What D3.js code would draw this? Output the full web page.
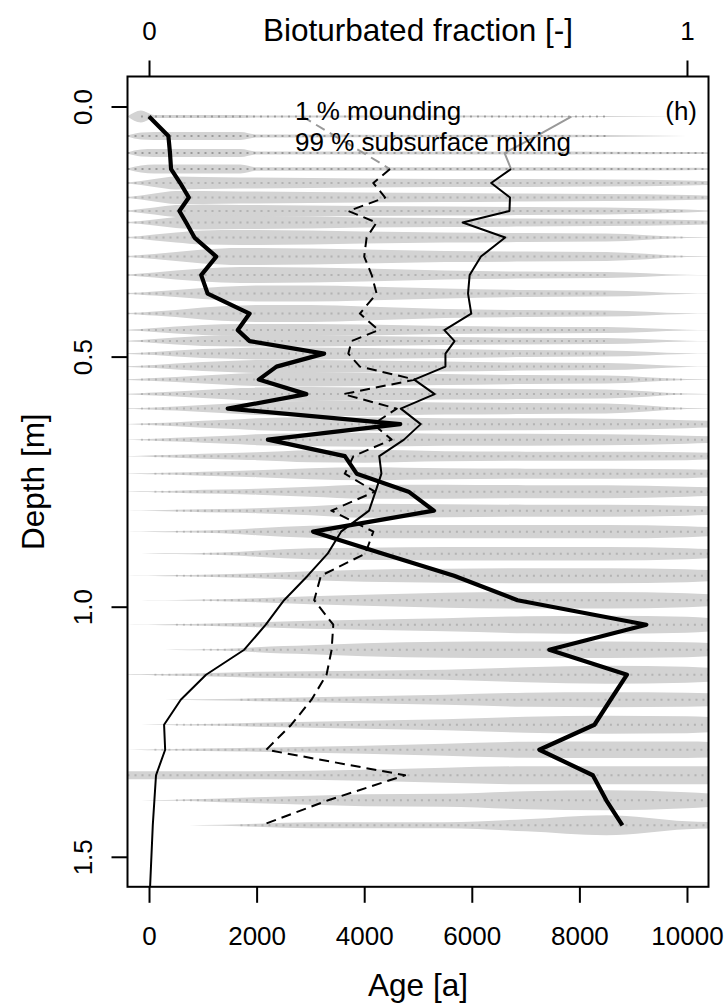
<!DOCTYPE html>
<html>
<head>
<meta charset="utf-8">
<script src="https://cdn.jsdelivr.net/npm/d3@7"></script>
<style>
  body { margin: 0; background: #fff; }
  svg text { font-family: "Liberation Sans", Arial, sans-serif; fill: #000; }
</style>
</head>
<body>
<svg id="chart"></svg>
<script>
// sample depths [m] of the age distributions
var levelDepth = [0.02, 0.059, 0.093, 0.125, 0.153, 0.182, 0.209, 0.232, 0.262, 0.30,
    0.337, 0.374, 0.414, 0.447, 0.469, 0.494, 0.52, 0.546, 0.575, 0.604,
    0.635, 0.666, 0.699, 0.734, 0.77, 0.808, 0.85, 0.894, 0.938, 0.987,
    1.036, 1.086, 1.136, 1.186, 1.236, 1.286, 1.337, 1.387, 1.437];

// mean age [a] per level (thick line)
var meanAge = [0, 360, 390, 410, 580, 740, 565, 690, 845, 1250,
    970, 1090, 1870, 1650, 1870, 3255, 2370, 2040, 2925, 1465,
    4670, 2210, 3640, 3860, 4825, 5295, 3050, 4350, 5670, 6850,
    9245, 7440, 8885, 8580, 8280, 7255, 8250, 8500, 8800];

// median age [a] per level (dashed line)
var medianAge = [2850, 3455, 3990, 4480, 4170, 4390, 3705, 4230, 4045, 4000,
    4140, 4230, 3920, 4265, 3765, 3705, 3920, 4950, 3610, 4605,
    4170, 4510, 3800, 3640, 4200, 3390, 4170, 4020, 3195, 3070,
    3425, 3395, 3300, 3020, 2645, 2180, 4760, 3330, 2090];

// bioturbated fraction (thin line, top axis)
var fracDepth = levelDepth.concat([1.56]);
var bioFraction = [0.785, 0.72, 0.661, 0.673, 0.636, 0.671, 0.670, 0.583, 0.662, 0.617,
    0.596, 0.593, 0.599, 0.549, 0.568, 0.551, 0.551, 0.493, 0.531, 0.468,
    0.505, 0.474, 0.428, 0.432, 0.421, 0.409, 0.357, 0.332, 0.295, 0.251,
    0.217, 0.177, 0.106, 0.059, 0.028, 0.030, 0.013, 0.010, 0.007, 0.002];

// depth down to which the curves are drawn in grey
var greyDepth = 0.125;

// age grid of the density profiles
var knotAge = [-400, -150, 100, 500, 1000, 1700, 2000, 3000, 4000, 5500, 7000, 8500, 10000, 10600];

// age density per level (one row per depth, one value per knot)
var density = [
    [0, 6, 1.5, 1.5, 1.5, 1.5, 1, 1, 1, 1, 0.8, 0.5, 0, 0],
    [0.5, 3.5, 4, 4, 4, 4, 1.5, 1.5, 1.3, 1.3, 1.2, 1, 0, 0],
    [0.5, 3.5, 4, 4, 4, 4, 1.5, 1.5, 1.5, 1.5, 1.5, 1.3, 1, 0.8],
    [0.5, 3.5, 4.5, 4.5, 4.5, 4.5, 1.8, 1.8, 1.8, 1.8, 1.8, 1.5, 1.2, 1],
    [0.5, 2, 4, 6.5, 6, 5.5, 5.5, 5, 4.5, 4, 4, 3.5, 2.5, 1.5],
    [0.5, 2, 4, 6.5, 6.5, 6, 6, 5.5, 5, 4.5, 4, 3.5, 2.5, 1.5],
    [0.5, 2, 3.5, 6, 6.5, 6, 6, 5.5, 5, 4.5, 4, 3.5, 1.5, 0],
    [0.5, 1.5, 3, 5.5, 7, 6.5, 6.5, 6, 5, 4.5, 4, 3.5, 2.5, 1.5],
    [0.5, 1.5, 3, 5, 7, 7.5, 7.5, 7, 6, 5, 4.5, 4, 0.5, 0],
    [0.5, 1.5, 2.5, 4.5, 7, 8.5, 8.5, 8, 7, 5.5, 5, 4.5, 0.5, 0],
    [0.5, 1.5, 2.5, 4.5, 6.5, 8, 8, 7.5, 6.5, 4.5, 3.5, 3, 0.3, 0],
    [0.5, 1.2, 2, 3.5, 5.5, 7.5, 8, 8, 7, 5, 3.5, 3, 0.3, 0],
    [0.5, 1.2, 2, 3.5, 6, 8, 8.5, 8.5, 7, 4.5, 3.5, 3, 0.3, 0],
    [0.4, 1, 2, 3.5, 5, 6, 6, 6, 5.5, 4, 3.3, 3, 0.3, 0],
    [0.4, 1, 2, 3.5, 5, 5.5, 5.5, 5.5, 5, 4, 3.3, 3, 0.3, 0],
    [0.3, 0.8, 1.5, 3, 4.5, 5.5, 6, 6, 5.5, 4.5, 3.5, 3, 0.3, 0],
    [0.3, 0.8, 1.5, 3, 4.5, 6, 6.5, 6.5, 6, 5, 4, 3.5, 0.3, 0],
    [0.3, 0.8, 1.5, 2.5, 4, 6, 6.5, 7, 6.5, 5.5, 4.5, 4, 0.5, 0],
    [0.3, 0.8, 1.5, 2.5, 4, 6, 6.5, 7, 6.5, 5.5, 5, 4.5, 0.5, 0],
    [0.3, 0.6, 1.2, 2, 3.5, 5.5, 6.5, 7.5, 7.5, 6, 5.5, 5, 0.5, 0],
    [0.2, 0.6, 1.2, 2, 3.5, 5, 6, 7, 7, 6, 6, 5.5, 4, 3],
    [0.2, 0.5, 1, 1.8, 3, 4.5, 5.5, 6.5, 7, 6, 6, 5.5, 4, 3],
    [0.1, 0.4, 0.8, 1.5, 2.5, 3.5, 4, 6, 6.5, 5, 4.5, 4.5, 4, 3],
    [0.1, 0.3, 0.6, 1.2, 2, 3, 3.5, 5.5, 6.5, 5.5, 5, 5, 4.5, 3.5],
    [0.1, 0.3, 0.5, 1, 1.8, 2.5, 3, 5, 7, 7, 6.5, 6.5, 5, 4],
    [0, 0.2, 0.4, 0.8, 1.5, 2, 2.5, 4.5, 7, 6.5, 6, 6, 5, 4],
    [0, 0.1, 0.3, 0.6, 1.2, 2.5, 3.5, 6, 6.7, 6.7, 6.7, 6.7, 5.5, 4],
    [0, 0, 0.2, 0.4, 0.8, 2, 3, 5.5, 6, 6.7, 6.7, 6.7, 5.5, 4],
    [0, 0.1, 0.3, 0.6, 1, 2, 2.5, 4.5, 6, 7, 7.5, 7.5, 6.5, 5],
    [0, 0, 0.1, 0.3, 0.6, 1.5, 2, 4, 5.5, 7.5, 8.3, 8.3, 7, 5.5],
    [0, 0.1, 0.3, 0.6, 1, 2, 2.5, 4, 5, 6.5, 8.5, 9, 8, 6],
    [0, 0, 0, 0.2, 0.5, 1.5, 2.5, 4.5, 6.5, 8, 8.3, 8.3, 7.5, 6],
    [0.2, 0.4, 0.6, 1, 1.5, 2.5, 3, 3.5, 4, 5, 7.5, 9, 8, 6.5],
    [0, 0, 0, 0.2, 0.4, 1, 1.5, 2.5, 3.5, 5, 7, 7.5, 7, 6],
    [0, 0.1, 0.3, 0.5, 0.8, 1.5, 2, 3, 4, 5.5, 8, 9, 8.5, 7],
    [0, 0.2, 0.5, 0.8, 1.2, 1.8, 2, 3, 4, 6, 8, 8.3, 8.3, 7.5],
    [4, 4, 4, 4, 4, 4, 4, 4.5, 5.5, 7.5, 9, 9, 9, 9],
    [0, 0.1, 0.3, 0.6, 1.2, 2.5, 3, 4.5, 6, 6.5, 9, 10, 8, 6],
    [0, 0, 0, 0, 0.3, 1, 1.5, 3, 3, 3, 6, 10, 4, 3]
];

var ageTicks = [0, 2000, 4000, 6000, 8000, 10000];
var fracTicks = [0, 1];
var depthTicks = [0, 0.5, 1, 1.5];

var width = 725, height = 1005;
var mLeft = 127.5, mRight = 708.5, mTop = 76.5, mBottom = 886.8;

var svg = d3.select("#chart")
    .attr("width", width)
    .attr("height", height);

var x = d3.scaleLinear().domain([-400, 10400]).range([mLeft, mRight]);
var xf = d3.scaleLinear().domain([-0.04, 1.04]).range([mLeft, mRight]);
var y = d3.scaleLinear().domain([-0.06, 1.56]).range([mTop, mBottom]);
var w = d3.scaleLinear().domain([0, 10]).range([0, 10]);

svg.append("clipPath").attr("id", "plotclip")
    .append("rect")
    .attr("x", mLeft).attr("y", mTop)
    .attr("width", mRight - mLeft).attr("height", mBottom - mTop);

var plot = svg.append("g").attr("clip-path", "url(#plotclip)");

// age distributions
var violin = d3.area()
    .x(function (d) { return x(d.age); })
    .y0(function (d) { return y(d.depth) - w(d.dens); })
    .y1(function (d) { return y(d.depth) + w(d.dens); })
    .curve(d3.curveMonotoneX);

var levels = levelDepth.map(function (dep, i) {
    return knotAge.map(function (a, k) {
        return { age: a, depth: dep, dens: density[i][k] };
    });
});

plot.selectAll(".violin")
    .data(levels)
    .enter().append("path")
    .attr("class", "violin")
    .attr("d", violin)
    .style("fill", "#d3d3d3")
    .style("stroke", "none");

// particle ages (dotted texture along each level)
plot.selectAll(".dots")
    .data(levels)
    .enter().append("line")
    .attr("class", "dots")
    .attr("x1", function (d) {
        var f = d.filter(function (p) { return p.dens >= 0.5; })[0];
        return x(f ? f.age : 0);
    })
    .attr("x2", function (d) {
        var f = d.filter(function (p) { return p.dens >= 0.5; });
        return x(f.length ? f[f.length - 1].age : 0);
    })
    .attr("y1", function (d) { return y(d[0].depth); })
    .attr("y2", function (d) { return y(d[0].depth); })
    .style("stroke", "#555")
    .style("stroke-opacity", function (d, i) { return i < 4 ? 0.45 : 0.25; })
    .style("stroke-width", 2)
    .style("stroke-dasharray", "2,5");

function drawSeries(depths, values, sx, dash, lw) {
    var pts = depths.map(function (d, i) { return [sx(values[i]), y(d)]; });
    var line = d3.line();
    var grey = pts.filter(function (p, i) { return depths[i] <= greyDepth; });
    var black = pts.filter(function (p, i) { return depths[i] >= greyDepth; });
    [[grey, "#999"], [black, "#000"]].forEach(function (s) {
        if (s[0].length < 2) return;
        plot.append("path")
            .attr("d", line(s[0]))
            .style("fill", "none")
            .style("stroke", s[1])
            .style("stroke-width", lw)
            .style("stroke-dasharray", dash)
            .style("stroke-linejoin", "round");
    });
}

drawSeries(fracDepth, bioFraction, xf, null, 2);
drawSeries(levelDepth, medianAge, x, "10,6", 2);

plot.append("path")
    .attr("d", d3.line()(levelDepth.map(function (d, i) { return [x(meanAge[i]), y(d)]; })))
    .style("fill", "none")
    .style("stroke", "#000")
    .style("stroke-width", 4.2)
    .style("stroke-linejoin", "round");

// box
svg.append("rect")
    .attr("x", mLeft).attr("y", mTop)
    .attr("width", mRight - mLeft).attr("height", mBottom - mTop)
    .style("fill", "none")
    .style("stroke", "#000")
    .style("stroke-width", 2);

// axes
function styleAxis(g) {
    g.select(".domain").remove();
    g.selectAll(".tick line").style("stroke", "#000").style("stroke-width", 2);
    g.selectAll(".tick text").style("font-size", "26px")
        .style("font-family", '"Liberation Sans", Arial, sans-serif');
}

svg.append("g")
    .attr("transform", "translate(0," + mBottom + ")")
    .call(d3.axisBottom(x).tickValues(ageTicks).tickSize(16).tickPadding(24).tickFormat(d3.format("d")))
    .call(styleAxis);

svg.append("g")
    .attr("transform", "translate(0," + mTop + ")")
    .call(d3.axisTop(xf).tickValues(fracTicks).tickSize(16).tickPadding(21).tickFormat(d3.format("d")))
    .call(styleAxis);

var yAxis = svg.append("g")
    .attr("transform", "translate(" + mLeft + ",0)")
    .call(d3.axisLeft(y).tickValues(depthTicks).tickSize(16).tickFormat(d3.format(".1f")))
    .call(styleAxis);

yAxis.selectAll(".tick text")
    .attr("x", null).attr("dy", null)
    .attr("transform", "translate(-36,0) rotate(-90)")
    .style("text-anchor", "middle");

// axis titles
svg.append("text")
    .attr("x", (mLeft + mRight) / 2).attr("y", 996)
    .attr("text-anchor", "middle")
    .style("font-size", "31.5px")
    .text("Age [a]");

svg.append("text")
    .attr("x", (xf(0) + xf(1)) / 2).attr("y", 41)
    .attr("text-anchor", "middle")
    .style("font-size", "31.5px")
    .text("Bioturbated fraction [-]");

svg.append("text")
    .attr("transform", "translate(44," + (mTop + mBottom) / 2 + ") rotate(-90)")
    .attr("text-anchor", "middle")
    .style("font-size", "31.5px")
    .text("Depth [m]");

// annotations
svg.append("text")
    .attr("x", 295).attr("y", 119.5)
    .style("font-size", "26px")
    .text("1 % mounding");

svg.append("text")
    .attr("x", 295).attr("y", 151)
    .style("font-size", "26px")
    .text("99 % subsurface mixing");

svg.append("text")
    .attr("x", 697).attr("y", 120)
    .attr("text-anchor", "end")
    .style("font-size", "26px")
    .text("(h)");
</script>
</body>
</html>
